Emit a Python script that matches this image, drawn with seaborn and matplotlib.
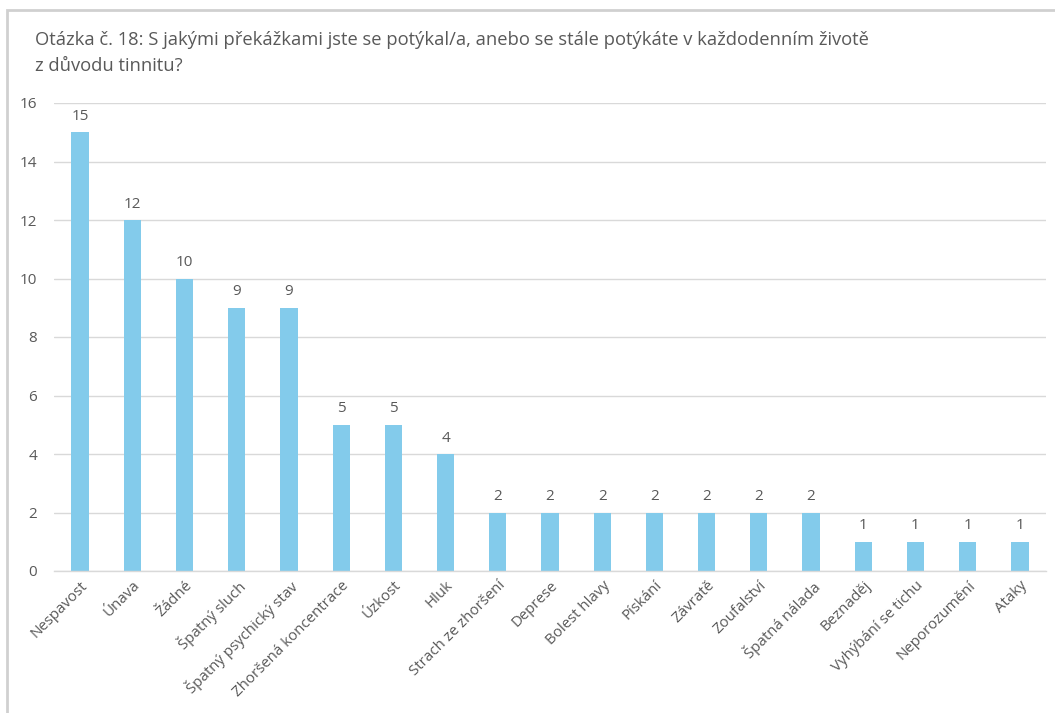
import matplotlib
matplotlib.use("Agg")
import matplotlib.pyplot as plt
import seaborn as sns
import pandas as pd
from matplotlib.patches import Rectangle

categories = ["Nespavost", "Únava", "Žádné", "Špatný sluch", "Špatný psychický stav",
              "Zhoršená koncentrace", "Úzkost", "Hluk", "Strach ze zhoršení", "Deprese",
              "Bolest hlavy", "Pískání", "Závratě", "Zoufalství", "Špatná nálada",
              "Beznaděj", "Vyhýbání se tichu", "Neporozumění", "Ataky"]
values = [15, 12, 10, 9, 9, 5, 5, 4, 2, 2, 2, 2, 2, 2, 2, 1, 1, 1, 1]
title = "Otázka č. 18: S jakými překážkami jste se potýkal/a, anebo se stále potýkáte v každodenním životě\nz důvodu tinnitu?"

sns.set_theme(style="white")
plt.rcParams['font.family'] = ['Open Sans', 'DejaVu Sans']
text_color = "#595959"
grid_color = "#d9d9d9"
bar_color = "#83CBEB"

df = pd.DataFrame({"cat": categories, "val": values})

fig = plt.figure(figsize=(10.55, 7.13), dpi=100)
ax = fig.add_axes([54/1055, 1-571/713, (1046-54)/1055, (571-103)/713])

sns.barplot(data=df, x="cat", y="val", color=bar_color, width=0.33, ax=ax,
            saturation=1, edgecolor="none")

ax.set_ylim(0, 16)
ax.set_xlim(-0.5, len(categories) - 0.5)
ax.set_yticks(range(0, 17, 2))
ax.yaxis.grid(True, color=grid_color, linewidth=1)
ax.set_axisbelow(True)
for s in ["top", "right", "left"]:
    ax.spines[s].set_visible(False)
ax.spines["bottom"].set_color(grid_color)
ax.spines["bottom"].set_linewidth(1)
ax.set_xlabel("")
ax.set_ylabel("")
ax.tick_params(axis="y", length=0, pad=12, labelsize=11, labelcolor=text_color)
ax.tick_params(axis="x", length=0, pad=5, labelsize=10.8, labelcolor=text_color)
plt.setp(ax.get_xticklabels(), rotation=45, ha="right", rotation_mode="anchor")

for c in ax.containers:
    ax.bar_label(c, labels=[str(v) for v in values], padding=6, fontsize=11, color=text_color)

fig.text(35/1055, 1-53/713, title, fontsize=13.2, color=text_color, va="center",
         linespacing=1.6, ha="left")

fig.patches.append(Rectangle((7/1055, -0.01), 1.1, 1-10/713 + 0.01, transform=fig.transFigure,
                             fill=False, edgecolor="#d0d0d0", linewidth=2))

fig.savefig("out.png", dpi=100)
